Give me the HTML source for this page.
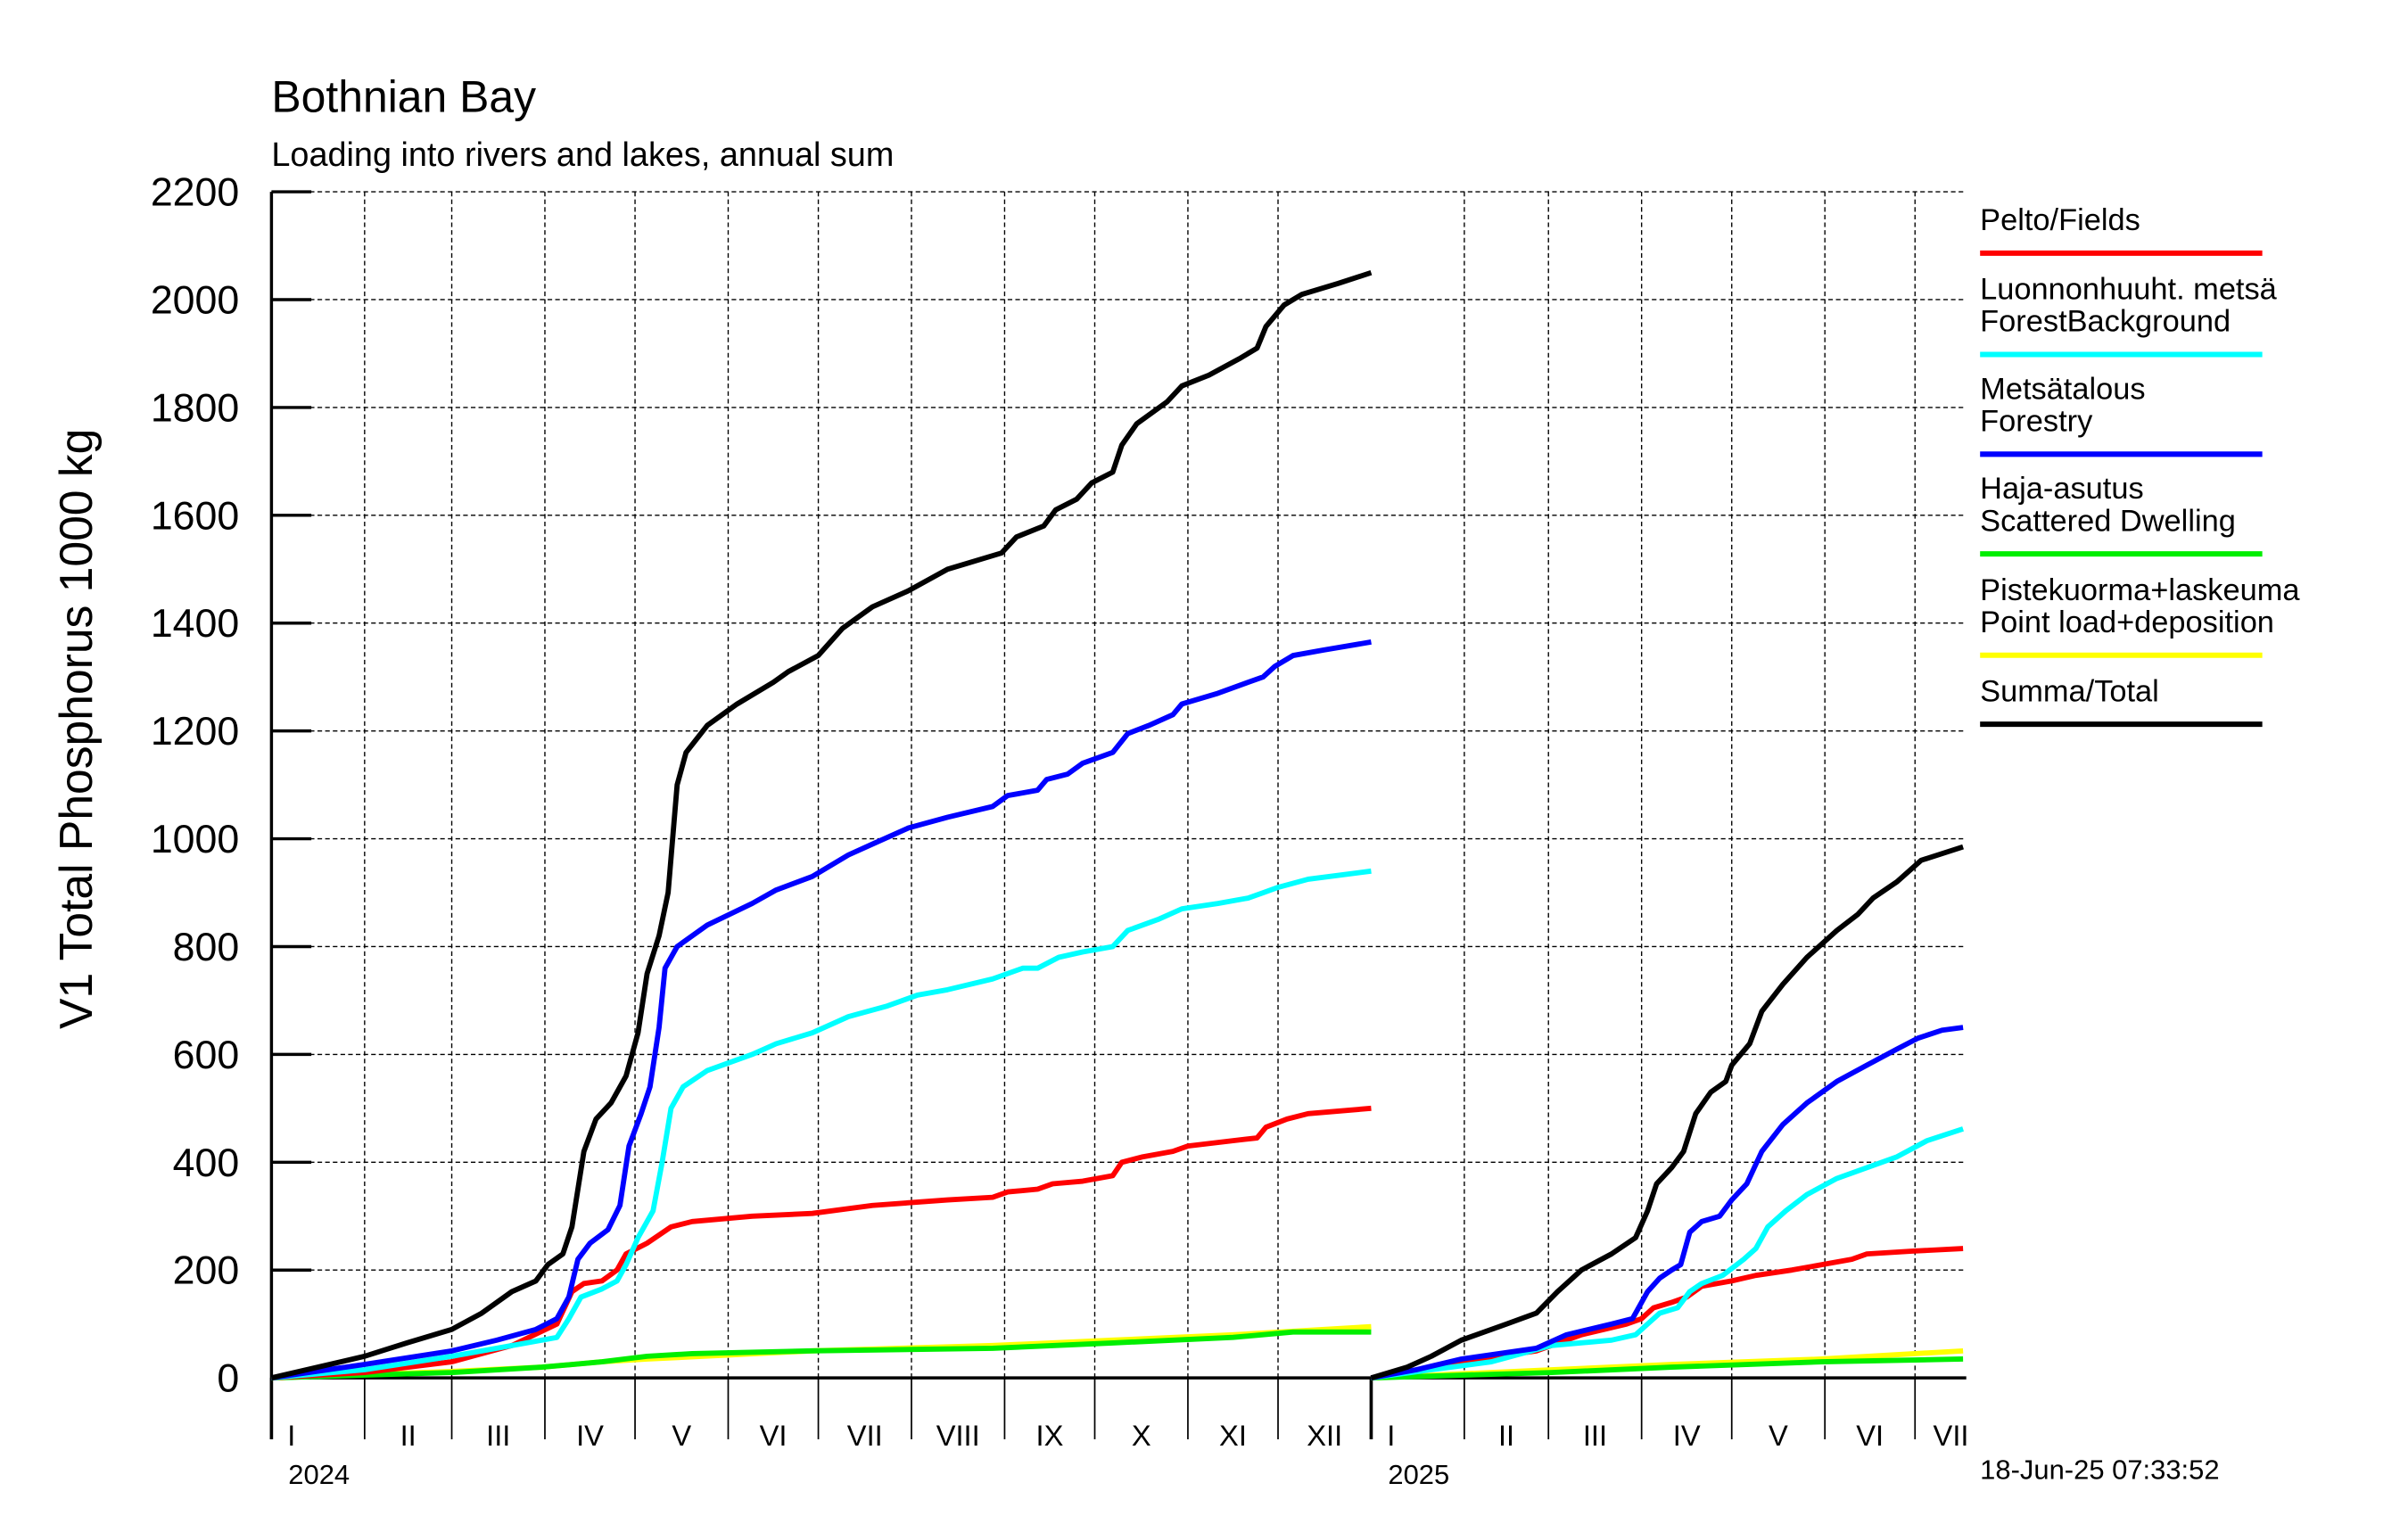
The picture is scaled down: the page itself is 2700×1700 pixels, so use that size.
<!DOCTYPE html>
<html><head><meta charset="utf-8"><style>
html,body{margin:0;padding:0;background:#fff}
svg{display:block;font-family:"Liberation Sans",sans-serif}
</style></head><body>
<svg id="chart" width="2700" height="1700" viewBox="0 0 1570 988" preserveAspectRatio="none" xmlns="http://www.w3.org/2000/svg">
<rect width="1570" height="988" fill="#fff"/>
<text x="177" y="73" font-size="29">Bothnian Bay</text>
<text x="177" y="108" font-size="22">Loading into rivers and lakes, annual sum</text>
<text transform="translate(60,475) rotate(-90)" text-anchor="middle" font-size="30">V1 Total Phosphorus 1000 kg</text>
<g id="grid"></g><g id="series"></g><g id="legend"></g>
<text x="188" y="967" font-size="18">2024</text>
<text x="905" y="967" font-size="18">2025</text>
<text x="1291" y="964" font-size="18">18-Jun-25 07:33:52</text>
</svg>
<script>
const yTicks=[0,200,400,600,800,1000,1200,1400,1600,1800,2000,2200];
const months=["I","II","III","IV","V","VI","VII","VIII","IX","X","XI","XII"];
const monthDays=[31,29,31,30,31,30,31,31,30,31,30,31];
const monthDays25=[31,28,31,30,31,30,31];
const legendNames=[["Pelto/Fields"],["Luonnonhuuht. metsä","ForestBackground"],["Metsätalous","Forestry"],["Haja-asutus","Scattered Dwelling"],["Pistekuorma+laskeuma","Point load+deposition"],["Summa/Total"]];
const seriesColors=["#ff0000","#00ffff","#0000ff","#00ee00","#ffff00","#000000"];
// 2024 series [day, value]
const red24=[[0,0],[31,10],[60,30],[80,60],[95,100],[100,160],[104,175],[110,180],[115,200],[118,230],[125,250],[133,280],[140,290],[160,300],[180,305],[200,320],[225,330],[240,335],[245,345],[255,350],[260,360],[270,365],[280,375],[283,400],[290,410],[300,420],[305,430],[320,440],[328,445],[331,465],[338,480],[345,490],[366,500]];
const cyan24=[[0,0],[31,15],[60,40],[80,60],[95,75],[99,110],[103,150],[110,165],[115,180],[118,210],[122,260],[127,310],[130,400],[133,500],[137,540],[145,570],[160,600],[168,620],[180,640],[192,670],[205,690],[215,710],[225,720],[240,740],[250,760],[255,760],[262,780],[270,790],[280,800],[285,830],[295,850],[303,870],[315,880],[325,890],[330,900],[335,910],[345,925],[366,940]];
const blue24=[[0,0],[31,25],[60,50],[75,70],[88,90],[95,110],[99,150],[102,220],[106,250],[112,275],[116,320],[119,430],[123,490],[126,540],[129,650],[131,760],[135,800],[145,840],[160,880],[168,905],[180,930],[192,970],[200,990],[212,1020],[225,1040],[240,1060],[245,1080],[255,1090],[258,1110],[265,1120],[270,1140],[280,1160],[285,1195],[292,1210],[300,1230],[303,1250],[315,1270],[325,1290],[330,1300],[334,1320],[340,1340],[350,1350],[366,1365]];
const green24=[[0,0],[60,10],[90,20],[110,30],[125,40],[140,45],[180,50],[240,55],[280,65],[320,75],[340,85],[366,85]];
const yellow24=[[0,0],[60,12],[90,20],[110,30],[125,35],[180,50],[240,60],[280,70],[320,80],[366,95]];
const black24=[[0,0],[31,40],[45,65],[60,90],[70,120],[80,160],[88,180],[92,210],[97,230],[100,280],[104,420],[108,480],[113,510],[118,560],[122,640],[125,750],[129,820],[132,900],[135,1100],[138,1160],[145,1210],[155,1250],[167,1290],[172,1310],[182,1340],[190,1390],[200,1430],[212,1460],[225,1500],[243,1530],[248,1560],[257,1580],[261,1610],[268,1630],[273,1660],[280,1680],[283,1730],[288,1770],[298,1810],[303,1840],[312,1860],[322,1890],[328,1910],[331,1950],[337,1990],[343,2010],[355,2030],[366,2050]];
// 2025 series
const red25=[[0,0],[30,30],[55,50],[70,80],[85,100],[90,110],[94,130],[100,140],[105,150],[110,170],[120,180],[128,190],[140,200],[150,210],[160,220],[165,230],[180,235],[197,240]];
const cyan25=[[0,0],[20,15],[40,30],[60,60],[80,70],[88,80],[92,100],[96,120],[102,130],[106,160],[110,175],[117,190],[124,220],[128,240],[132,280],[138,310],[145,340],[155,370],[165,390],[175,410],[185,440],[197,462]];
const blue25=[[0,0],[15,15],[30,35],[55,55],[65,80],[80,100],[87,110],[92,160],[96,185],[100,200],[103,210],[106,270],[110,290],[116,300],[120,330],[125,360],[130,420],[137,470],[145,510],[155,550],[165,580],[175,610],[182,630],[190,645],[197,650]];
const green25=[[0,0],[60,10],[100,20],[150,30],[197,35]];
const yellow25=[[0,0],[60,15],[100,25],[150,35],[197,50]];
const black25=[[0,0],[12,20],[20,40],[30,70],[45,100],[55,120],[62,160],[70,200],[80,230],[88,260],[92,310],[95,360],[100,390],[104,420],[108,490],[113,530],[118,550],[120,580],[126,620],[130,680],[137,730],[145,780],[155,830],[162,860],[167,890],[175,920],[183,960],[197,985]];

const NS="http://www.w3.org/2000/svg";
const L=177,R=1282,T=125,B=898,X25=894,PXD=(894-177)/366;
const yS=v=>B-(v/2200)*(B-T);
const x24=d=>L+d*PXD, x25=d=>X25+d*PXD;
function mk(tag,attrs,parent){const e=document.createElementNS(NS,tag);for(const k in attrs)e.setAttribute(k,attrs[k]);parent.appendChild(e);return e;}
const grid=document.getElementById('grid');
yTicks.forEach(v=>{
  const y=yS(v);
  if(v>0){const g=mk('line',{x1:L,x2:R,y1:y,y2:y,stroke:'#000','stroke-width':0.8,'stroke-dasharray':'3,2'},grid);
  
  }
  const t=mk('line',{x1:L,x2:203,y1:y,y2:y,stroke:'#000','stroke-width':2},grid);
  
  
  const tx=mk('text',{x:156,y:y+9,'text-anchor':'end','font-size':26},grid);tx.textContent=v;
  
  
});
function monthAxis(mdays,xf,count){
  let d=0;
  for(let i=0;i<count;i++){
    const x=xf(d), dn=mdays[i];
    if(d>0){const g=mk('line',{x1:x,x2:x,y1:T,y2:B,stroke:'#000','stroke-width':0.8,'stroke-dasharray':'3,2'},grid);
      
      }
    const tk=mk('line',{x1:x,x2:x,y1:B,y2:938,stroke:'#000','stroke-width':d==0?2:1},grid);
    
    
    const cx=Math.min(xf(d+dn/2),1272);
    const lb=mk('text',{x:i==0?x+13:cx,y:942,'text-anchor':'middle','font-size':19},grid);lb.textContent=months[i];
    
    
    d+=dn;
  }
  return d;
}
monthAxis(monthDays,x24,12);
monthAxis(monthDays25,x25,7);
const ax=mk('line',{x1:L,x2:L,y1:T,y2:938,stroke:'#000','stroke-width':2},grid);

const ax2=mk('line',{x1:X25,x2:X25,y1:B,y2:938,stroke:'#000','stroke-width':2},grid);

const bx=mk('line',{x1:L,x2:R,y1:B,y2:B,stroke:'#000','stroke-width':2},grid);


const ser=document.getElementById('series');
const names=["fields","forest-background","forestry","scattered-dwelling","point-load","total"];
const d24=[red24,cyan24,blue24,green24,yellow24,black24], d25=[red25,cyan25,blue25,green25,yellow25,black25];
[4,3,0,1,2,5].forEach(i=>{
  [[d24[i],x24,'2024'],[d25[i],x25,'2025']].forEach(([pts,xf,yr])=>{
    const p=mk('polyline',{points:pts.map(q=>xf(q[0]).toFixed(1)+','+yS(q[1]).toFixed(1)).join(' '),fill:'none',stroke:seriesColors[i],'stroke-width':3.4,'stroke-linejoin':'round'},ser);
    
    
  });
});
const lg=document.getElementById('legend');
const lineY=[165,231,296,361,427,472];
legendNames.forEach((nm,i)=>{
  const g=mk('g',{},lg);
  
  
  nm.forEach((s,j)=>{const t=mk('text',{x:1291,y:lineY[i]-15-(nm.length-1-j)*21,'font-size':20},g);t.textContent=s;});
  mk('line',{x1:1291,x2:1475,y1:lineY[i],y2:lineY[i],stroke:seriesColors[i],'stroke-width':3.5},g);
});
</script>
</body></html>
